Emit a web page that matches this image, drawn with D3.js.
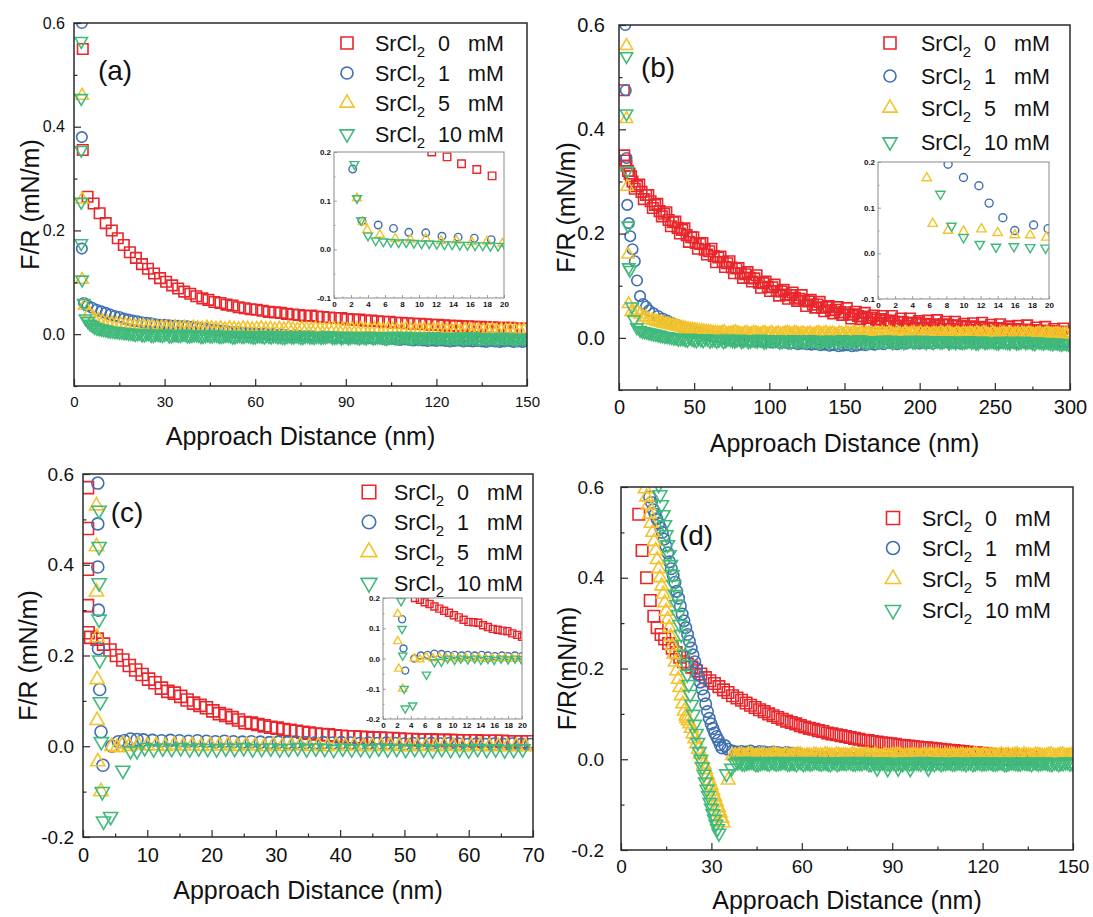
<!DOCTYPE html>
<html>
<head>
<meta charset="utf-8">
<script src="https://cdn.jsdelivr.net/npm/d3@7"></script>
<style>
  body { margin: 0; background: #fff; }
  svg { display: block; font-family: Arial, "Liberation Sans", sans-serif; }
</style>
</head>
<body>
<svg id="fig" width="1093" height="917"></svg>
<script>
// ---------- series metadata ----------
const concentrations = ["0", "1", "5", "10"];           // SrCl2, mM
const seriesColors   = ["#e8262b", "#3f6fb0", "#f3c32c", "#40ba7a"];
const seriesShapes   = ["square", "circle", "up", "down"];

// ---------- panel (a): x in nm, y in mN/m ----------
const aRedHead = [[2.9, 0.55], [2.9, 0.355]];
const aRedRun = { x0: 4.5, dx: 2, y: [
  0.265,0.252,0.233,0.214,0.200,0.185,0.172,0.158,0.147,0.135,
  0.126,0.117,0.108,0.101,0.094,0.088,0.082,0.078,0.073,0.069,
  0.066,0.062,0.060,0.057,0.055,0.052,0.050,0.048,0.047,0.045,
  0.043,0.042,0.041,0.039,0.038,0.037,0.035,0.036,0.034,0.033,
  0.032,0.031,0.031,0.029,0.028,0.028,0.026,0.026,0.025,0.024,
  0.024,0.022,0.022,0.021,0.020,0.020,0.019,0.018,0.018,0.017,
  0.016,0.016,0.015,0.015,0.014,0.014,0.013,0.013,0.012,0.012,
  0.012,0.011,0.011] };
const aBlueHead = [[2.6, 0.60], [2.6, 0.38], [2.6, 0.165], [3.3, 0.06]];
const aBlueRun = { x0: 4.5, dx: 1.5, y: [
  0.055,0.051,0.047,0.044,0.041,0.038,0.035,0.033,0.030,0.028,
  0.026,0.025,0.023,0.022,0.021,0.019,0.018,0.018,0.017,0.016,
  0.016,0.015,0.015,0.014,0.013,0.012,0.011,0.009,0.008,0.007,
  0.006,0.005,0.004,0.004,0.003,0.002,0.002,0.001,0.000,0.001,
  -0.001,0.000,-0.002,-0.001,-0.002,-0.003,-0.002,-0.003,-0.004,-0.003,
  -0.004,-0.005,-0.004,-0.005,-0.006,-0.005,-0.006,-0.007,-0.006,-0.007,
  -0.008,-0.007,-0.008,-0.009,-0.008,-0.009,-0.010,-0.009,-0.010,-0.011,
  -0.010,-0.011,-0.012,-0.011,-0.012,-0.013,-0.012,-0.013,-0.012,-0.013,
  -0.014,-0.013,-0.012,-0.014,-0.013,-0.014,-0.013,-0.014,-0.015,-0.013,
  -0.014,-0.015,-0.014,-0.013,-0.015,-0.014,-0.015,-0.014] };
const aYellowHead = [[2.7, 0.46], [2.7, 0.26], [2.7, 0.105]];
const aYellowRun = { x0: 3.5, dx: 1.5, y: [
  0.055,0.040,0.032,0.028,0.025,0.023,0.021,0.020,0.019,0.018,
  0.017,0.016,0.015,0.016,0.014,0.015,0.013,0.014,0.013,0.012,
  0.014,0.012,0.013,0.011,0.013,0.012,0.011,0.013,0.012,0.011,
  0.012,0.010,0.012,0.011,0.010,0.012,0.011,0.010,0.011,0.012,
  0.010,0.011,0.009,0.011,0.010,0.012,0.010,0.009,0.011,0.010,
  0.009,0.011,0.010,0.009,0.010,0.011,0.009,0.010,0.008,0.010,
  0.009,0.011,0.009,0.008,0.010,0.009,0.008,0.010,0.009,0.008,
  0.009,0.010,0.008,0.009,0.008,0.009,0.007,0.009,0.008,0.009,
  0.007,0.008,0.009,0.007,0.008,0.009,0.007,0.008,0.007,0.008,
  0.009,0.007,0.008,0.007,0.008,0.007,0.008,0.007] };
const aGreenHead = [[2.4, 0.565], [2.4, 0.455], [2.4, 0.355], [2.4, 0.255], [2.4, 0.175], [2.7, 0.105], [3.2, 0.06]];
const aGreenRun = { x0: 3.8, dx: 1.5, y: [
  0.030,0.020,0.014,0.011,0.009,0.007,0.006,0.005,0.004,0.003,
  0.002,0.000,0.002,-0.001,0.001,-0.002,0.000,-0.002,0.001,-0.003,
  -0.001,-0.002,0.000,-0.003,-0.001,-0.002,-0.004,-0.001,-0.003,-0.002,
  -0.004,-0.002,-0.003,-0.005,-0.002,-0.004,-0.003,-0.005,-0.003,-0.004,
  -0.002,-0.005,-0.003,-0.004,-0.006,-0.003,-0.005,-0.004,-0.006,-0.003,
  -0.005,-0.004,-0.006,-0.005,-0.003,-0.006,-0.004,-0.005,-0.007,-0.004,
  -0.006,-0.005,-0.007,-0.004,-0.006,-0.005,-0.007,-0.006,-0.004,-0.007,
  -0.005,-0.006,-0.008,-0.005,-0.007,-0.006,-0.008,-0.005,-0.007,-0.006,
  -0.008,-0.006,-0.007,-0.005,-0.008,-0.006,-0.007,-0.009,-0.006,-0.008,
  -0.007,-0.009,-0.006,-0.008,-0.007,-0.009,-0.007,-0.008] };
const aGreenRun2 = { x0: 4.55, dx: 1.5, y: [
  0.025,0.017,0.012,0.010,0.008,0.006,0.005,0.004,0.003,0.002,
  0.001,0.001,-0.001,0.001,-0.002,0.000,-0.001,0.000,-0.003,-0.001,
  -0.002,0.000,-0.003,-0.002,-0.001,-0.004,-0.002,-0.003,-0.001,-0.004,
  -0.003,-0.002,-0.005,-0.003,-0.004,-0.002,-0.004,-0.005,-0.003,-0.005,
  -0.004,-0.003,-0.005,-0.006,-0.004,-0.005,-0.003,-0.006,-0.004,-0.005,
  -0.006,-0.004,-0.005,-0.003,-0.006,-0.005,-0.007,-0.004,-0.006,-0.005,
  -0.007,-0.006,-0.004,-0.007,-0.005,-0.006,-0.008,-0.005,-0.007,-0.006,
  -0.004,-0.007,-0.006,-0.008,-0.006,-0.007,-0.005,-0.008,-0.006,-0.007,
  -0.009,-0.007,-0.006,-0.008,-0.007,-0.005,-0.008,-0.007,-0.009,-0.007,
  -0.008,-0.006,-0.009,-0.007,-0.008,-0.009,-0.008,-0.007] };
// inset (a): first 20 nm
const aRedIn    = [[9.6,0.212],[11.5,0.2],[13.3,0.19],[15,0.176],[16.8,0.164],[18.6,0.151]];
const aBlueIn   = [[2.2,0.165],[3.3,0.058],[5.2,0.05],[7,0.043],[8.8,0.035],[10.8,0.034],[12.7,0.027],[14.6,0.025],[16.5,0.023],[18.5,0.02]];
const aYellowIn = [[2.7,0.105],[3.4,0.056],[3.9,0.04],[5.4,0.03],[7.2,0.022],[9,0.02],[10.8,0.022],[12.6,0.017],[14.4,0.018],[16.2,0.015],[18,0.016],[19.8,0.012]];
const aGreenInHead = [[2.4,0.175],[2.7,0.105],[3.2,0.06]];
const aGreenInRun = { x0: 4, dx: 0.9, y: [0.028,0.018,0.016,0.015,0.014,0.014,0.013,0.012,0.012,0.011,0.010,0.010,0.009,0.009,0.008,0.008,0.007,0.007,0.006] };

// ---------- panel (b) ----------
const bRedHead = [[3.2,0.475],[3.5,0.35],[4.2,0.34],[5,0.33],[6,0.32],[7,0.315],[8,0.31]];
const bRedRun = { x0: 9, dx: 3, y: [
  0.300,0.291,0.280,0.274,0.262,0.255,0.243,0.238,0.226,0.222,
  0.211,0.207,0.197,0.193,0.182,0.180,0.169,0.166,0.157,0.154,
  0.146,0.143,0.135,0.133,0.124,0.122,0.115,0.114,0.106,0.105,
  0.098,0.097,0.090,0.089,0.083,0.082,0.077,0.075,0.071,0.070,
  0.064,0.064,0.058,0.059,0.053,0.054,0.049,0.049,0.045,0.045,
  0.042,0.041,0.038,0.039,0.035,0.036,0.033,0.033,0.031,0.031,
  0.030,0.029,0.028,0.029,0.026,0.027,0.025,0.026,0.024,0.026,
  0.025,0.024,0.023,0.023,0.021,0.022,0.020,0.021,0.019,0.020,
  0.018,0.019,0.017,0.018,0.016,0.017,0.015,0.016,0.014,0.015,
  0.013,0.014,0.012,0.013,0.011,0.012,0.011] };
const bRedRun2 = { x0: 10.5, dx: 3, y: [
  0.286,0.294,0.266,0.274,0.249,0.257,0.233,0.241,0.214,0.223,
  0.200,0.210,0.184,0.193,0.171,0.182,0.160,0.171,0.145,0.156,
  0.136,0.147,0.124,0.134,0.115,0.126,0.108,0.120,0.096,0.108,
  0.090,0.102,0.081,0.092,0.075,0.087,0.071,0.082,0.061,0.073,
  0.058,0.069,0.051,0.061,0.047,0.059,0.044,0.057,0.037,0.050,
  0.036,0.048,0.030,0.043,0.028,0.042,0.028,0.042,0.023,0.037,
  0.023,0.037,0.019,0.032,0.019,0.033,0.020,0.034,0.016,0.031,
  0.017,0.031,0.014,0.027,0.014,0.028,0.015,0.029,0.011,0.025,
  0.012,0.026,0.009,0.022,0.009,0.023,0.010,0.024,0.006,0.020,
  0.007,0.021,0.004,0.017,0.004,0.018] };
const bBlueHead = [[4.2,0.6],[4.5,0.475],[5,0.345],[5.5,0.255],[6.5,0.22],[7.5,0.195],[9,0.17],[10.5,0.147],[12,0.11],[14,0.08],[16,0.065],[18,0.06],[20,0.053]];
const bBlueRun = { x0: 23, dx: 3, y: [
  0.047,0.042,0.037,0.033,0.029,0.025,0.021,0.018,0.015,0.012,
  0.010,0.008,0.006,0.004,0.002,0.000,-0.002,-0.003,-0.004,-0.005,
  -0.006,-0.005,-0.007,-0.006,-0.008,-0.007,-0.009,-0.008,-0.010,-0.009,
  -0.011,-0.010,-0.012,-0.011,-0.012,-0.013,-0.012,-0.014,-0.013,-0.015,
  -0.014,-0.016,-0.015,-0.014,-0.016,-0.015,-0.013,-0.014,-0.012,-0.013,
  -0.011,-0.012,-0.010,-0.011,-0.012,-0.010,-0.011,-0.009,-0.010,-0.011,
  -0.009,-0.010,-0.011,-0.009,-0.010,-0.008,-0.010,-0.009,-0.011,-0.010,
  -0.009,-0.010,-0.008,-0.009,-0.010,-0.008,-0.009,-0.010,-0.008,-0.009,
  -0.010,-0.009,-0.008,-0.010,-0.009,-0.008,-0.009,-0.010,-0.009,-0.008,
  -0.009,-0.010,-0.009] };
const bYellowHead = [[5,0.56],[5,0.42],[5.5,0.29],[6,0.16],[6.4,0.065],[8.2,0.05],[10,0.048],[12.1,0.052],[14,0.045],[16,0.04],[17.8,0.04],[19.7,0.035]];
const bYellowRun = { x0: 22, dx: 3, y: [
  0.034,0.031,0.029,0.027,0.025,0.023,0.021,0.019,0.017,0.016,
  0.014,0.013,0.012,0.011,0.010,0.009,0.011,0.008,0.010,0.009,
  0.007,0.010,0.008,0.009,0.007,0.010,0.008,0.006,0.009,0.008,
  0.010,0.007,0.009,0.008,0.006,0.009,0.007,0.010,0.008,0.007,
  0.009,0.006,0.008,0.010,0.007,0.009,0.008,0.006,0.009,0.007,
  0.008,0.010,0.007,0.009,0.006,0.008,0.009,0.007,0.010,0.008,
  0.006,0.009,0.007,0.008,0.010,0.007,0.009,0.006,0.008,0.009,
  0.007,0.008,0.010,0.007,0.009,0.006,0.008,0.007,0.009,0.008,
  0.006,0.008,0.009,0.007,0.008,0.006,0.009,0.007,0.008,0.007,
  0.008,0.006,0.007] };
const bYellowRun2 = { x0: 23.5, dx: 3, y: [
  0.033,0.030,0.028,0.026,0.024,0.022,0.020,0.018,0.016,0.015,
  0.013,0.012,0.011,0.010,0.009,0.010,0.008,0.009,0.011,0.008,
  0.009,0.007,0.010,0.008,0.009,0.007,0.010,0.008,0.006,0.009,
  0.008,0.010,0.007,0.009,0.008,0.006,0.009,0.007,0.010,0.008,
  0.007,0.009,0.006,0.008,0.010,0.007,0.009,0.008,0.006,0.009,
  0.007,0.008,0.010,0.007,0.009,0.006,0.008,0.009,0.007,0.010,
  0.008,0.006,0.009,0.007,0.008,0.010,0.007,0.009,0.006,0.008,
  0.009,0.007,0.008,0.010,0.007,0.009,0.006,0.008,0.007,0.009,
  0.008,0.006,0.008,0.009,0.007,0.008,0.006,0.009,0.007,0.008,
  0.007,0.008] };
const bGreenHead = [[5,0.54],[5,0.43],[5.5,0.32],[6,0.215],[6.5,0.135],[7.3,0.13],[8.6,0.06],[10,0.035],[11.9,0.02]];
const bGreenRun = { x0: 14, dx: 3, y: [
  0.015,0.012,0.010,0.008,0.006,0.004,0.003,0.001,0.000,-0.001,
  -0.003,0.000,-0.004,-0.001,-0.005,-0.002,-0.004,-0.006,-0.002,-0.005,
  -0.003,-0.006,-0.002,-0.005,-0.007,-0.003,-0.006,-0.004,-0.007,-0.003,
  -0.005,-0.008,-0.004,-0.006,-0.003,-0.007,-0.005,-0.008,-0.004,-0.006,
  -0.007,-0.004,-0.008,-0.005,-0.006,-0.003,-0.007,-0.005,-0.008,-0.004,
  -0.006,-0.008,-0.005,-0.007,-0.004,-0.006,-0.009,-0.005,-0.007,-0.006,
  -0.004,-0.008,-0.006,-0.007,-0.005,-0.009,-0.006,-0.008,-0.005,-0.007,
  -0.009,-0.006,-0.008,-0.005,-0.007,-0.010,-0.006,-0.008,-0.007,-0.009,
  -0.006,-0.008,-0.010,-0.007,-0.009,-0.006,-0.008,-0.010,-0.007,-0.009,
  -0.008,-0.010,-0.009,-0.011,-0.010,-0.012] };
const bGreenRun2 = { x0: 15.5, dx: 3, y: [
  0.013,0.011,0.009,0.007,0.005,0.003,0.002,0.000,-0.002,-0.001,
  -0.004,-0.002,-0.005,-0.003,-0.001,-0.006,-0.003,-0.004,-0.007,-0.002,
  -0.005,-0.004,-0.007,-0.003,-0.006,-0.005,-0.002,-0.008,-0.004,-0.006,
  -0.003,-0.007,-0.005,-0.008,-0.006,-0.004,-0.007,-0.003,-0.006,-0.008,
  -0.005,-0.007,-0.004,-0.009,-0.006,-0.005,-0.008,-0.006,-0.003,-0.007,
  -0.009,-0.005,-0.007,-0.006,-0.008,-0.004,-0.007,-0.006,-0.009,-0.005,
  -0.008,-0.006,-0.004,-0.009,-0.007,-0.005,-0.008,-0.006,-0.010,-0.007,
  -0.006,-0.009,-0.007,-0.008,-0.010,-0.006,-0.009,-0.007,-0.008,-0.010,
  -0.007,-0.009,-0.006,-0.010,-0.008,-0.009,-0.007,-0.011,-0.008,-0.010,
  -0.009,-0.011,-0.010,-0.012,-0.011] };
// inset (b)
const bBlueIn   = [[8.2,0.195],[10,0.166],[11.8,0.148],[13,0.11],[14.6,0.078],[16,0.05],[18.2,0.062],[19.9,0.054]];
const bYellowIn = [[5.7,0.165],[6.4,0.065],[8.2,0.05],[10,0.048],[12.1,0.053],[14,0.045],[16,0.04],[17.8,0.04],[19.7,0.035]];
const bGreenIn  = [[7.3,0.13],[8.6,0.06],[10,0.035],[11.9,0.02],[13.8,0.014],[15.9,0.015],[17.8,0.013],[19.6,0.012]];

// ---------- panel (c) ----------
const cRedHead = [[0.7,0.57],[0.7,0.48],[0.7,0.39],[0.7,0.31],[0.8,0.25]];
const cRedRun = { x0: 1.2, dx: 1, y: [
  0.240,0.236,0.225,0.212,0.200,0.190,0.178,0.168,0.158,0.148,
  0.140,0.128,0.121,0.117,0.110,0.102,0.095,0.090,0.085,0.078,
  0.072,0.068,0.063,0.058,0.052,0.051,0.048,0.045,0.042,0.040,
  0.037,0.035,0.033,0.031,0.029,0.027,0.026,0.025,0.023,0.022,
  0.021,0.021,0.020,0.019,0.018,0.018,0.017,0.017,0.016,0.015,
  0.015,0.014,0.014,0.014,0.013,0.013,0.013,0.012,0.012,0.012,
  0.012,0.011,0.011,0.011,0.011,0.010,0.010,0.010,0.010] };
const cBlueHead = [[2.3,0.58],[2.3,0.49],[2.3,0.395],[2.4,0.30],[2.4,0.215],[2.6,0.125],[2.8,0.032],[3.1,-0.042],[4.5,0.0],[5.5,0.01],[6.4,0.012],[7.4,0.016],[8.4,0.015]];
const cBlueRun = { x0: 9.4, dx: 1.4, y: [
  0.014,0.013,0.012,0.013,0.012,0.011,0.012,0.011,0.010,0.011,
  0.010,0.009,0.010,0.009,0.008,0.009,0.008,0.009,0.008,0.007,
  0.008,0.007,0.008,0.007,0.006,0.007,0.006,0.007,0.006,0.005,
  0.006,0.005,0.006,0.005,0.006,0.005,0.004,0.005,0.004,0.005,
  0.004,0.005,0.004,0.004] };
const cYellowHead = [[2.1,0.53],[2.1,0.44],[2.1,0.34],[2.2,0.24],[2.2,0.147],[2.2,0.057],[2.3,-0.034],[2.8,-0.1],[4.5,0.0],[5.3,-0.003],[6.2,0.005]];
const cYellowRun = { x0: 7.2, dx: 1.4, y: [
  0.000,0.003,0.001,0.002,0.000,0.003,0.001,0.002,0.000,0.002,
  0.001,0.003,0.000,0.002,0.001,-0.001,0.002,0.000,0.001,0.002,
  0.000,0.001,-0.001,0.002,0.000,0.001,-0.001,0.001,0.000,0.002,
  0.000,-0.001,0.001,0.000,-0.001,0.001,0.000,-0.001,0.000,0.001,
  -0.001,0.000,-0.001,0.000,-0.001] };
const cGreenHead = [[2.5,0.52],[2.5,0.44],[2.5,0.36],[2.5,0.28],[2.6,0.19],[2.7,0.098],[2.85,0.01],[3.0,-0.1],[3.2,-0.165],[4.3,-0.155],[6.2,-0.053],[7.4,-0.01],[8.4,-0.01]];
const cGreenRun = { x0: 9.6, dx: 1.4, y: [
  -0.003,-0.006,-0.004,-0.005,-0.003,-0.006,-0.004,-0.005,-0.006,-0.004,
  -0.005,-0.003,-0.006,-0.005,-0.004,-0.006,-0.005,-0.003,-0.006,-0.004,
  -0.005,-0.007,-0.004,-0.006,-0.005,-0.007,-0.004,-0.006,-0.005,-0.007,
  -0.005,-0.006,-0.008,-0.005,-0.007,-0.006,-0.008,-0.005,-0.007,-0.006,
  -0.008,-0.007,-0.006] };
// inset (c)
const cRedInRun = { x0: 4.6, dx: 0.7, y: [0.2,0.194,0.186,0.18,0.172,0.165,0.158,0.151,0.143,0.136,0.128,0.121,0.12,0.118,0.11,0.104,0.098,0.095,0.092,0.09,0.083,0.078,0.072] };
const cBlueIn   = [[2.75,0.13],[2.95,0.033],[3.2,-0.04],[4.5,0.0],[5.45,0.01],[6.4,0.012],[7.4,0.016],[8.4,0.015],[9.3,0.012],[10.3,0.012],[11.3,0.01],[12.2,0.012],[13.2,0.01],[14.2,0.012],[15.1,0.01],[16.1,0.008],[17.1,0.01],[18.0,0.008],[19.0,0.01],[20.0,0.008]];
const cYellowIn = [[2.13,0.147],[2.13,0.057],[2.27,-0.034],[2.84,-0.1],[4.5,0.0],[5.3,-0.003],[6.2,0.005],[7.2,0.0],[8.1,0.004],[9.1,0.001],[10.0,0.003],[11.0,0.0],[11.9,0.002],[12.9,0.0],[13.8,0.002],[14.8,-0.001],[15.7,0.001],[16.7,0.0],[17.6,0.001],[18.6,-0.001],[19.5,0.0]];
const cGreenIn  = [[2.6,0.19],[2.74,0.098],[2.84,0.01],[3.05,-0.1],[3.2,-0.165],[4.27,-0.155],[6.25,-0.053],[7.4,-0.012],[8.4,-0.01],[9.3,0.0],[10.3,-0.004],[11.2,0.0],[12.2,-0.003],[13.2,0.0],[14.1,-0.004],[15.1,-0.001],[16.0,-0.004],[17.0,0.0],[18.0,-0.003],[19.0,0.0],[19.9,-0.002]];

// ---------- panel (d) ----------
const dRedHead = [[5.9,0.54],[7,0.46],[8.5,0.40],[9.7,0.35],[10.9,0.315],[12,0.29],[13.3,0.275],[14.5,0.265],[15.8,0.255],[17,0.245],[18.3,0.235],[19.5,0.225],[20.8,0.215]];
const dRedRun = { x0: 22, dx: 1.5, y: [
  0.210,0.203,0.195,0.188,0.180,0.173,0.167,0.160,0.153,0.147,
  0.140,0.135,0.130,0.124,0.119,0.114,0.109,0.105,0.100,0.096,
  0.092,0.088,0.084,0.081,0.078,0.074,0.071,0.068,0.066,0.063,
  0.061,0.058,0.056,0.054,0.052,0.050,0.048,0.046,0.044,0.042,
  0.041,0.039,0.038,0.036,0.035,0.034,0.033,0.031,0.030,0.029,
  0.028,0.027,0.026,0.025,0.024,0.023,0.022,0.021,0.020,0.019,
  0.018,0.017,0.016,0.015,0.014,0.013,0.012,0.011,0.010,0.009,
  0.009,0.008,0.008,0.007,0.007,0.006,0.006] };
const dBlueRun1 = { x0: 9.5, dx: 0.6, y: [
  0.578,0.566,0.550,0.540,0.530,0.520,0.510,0.500,0.485,0.470,
  0.455,0.435,0.420,0.405,0.390,0.370,0.355,0.338,0.320,0.305,
  0.290,0.275,0.260,0.245,0.230,0.215,0.200,0.185,0.170,0.155,
  0.140,0.122,0.105,0.090,0.078,0.068,0.058,0.050,0.042,0.032,
  0.025] };
const dBlueMid = [[34.5,0.03],[35.5,0.022],[37,0.018],[38.5,0.016]];
const dBlueRun2 = { x0: 40, dx: 1.5, y: [
  0.017,0.016,0.018,0.015,0.017,0.016,0.014,0.016,0.015,0.013,0.015,0.013,0.012,
  0.010,0.008,0.006,0.005,0.004,0.004,0.003,0.003,0.002,0.003,
  0.002,0.003,0.002,0.002,0.003,0.002,0.001,0.002,0.001,0.002,
  0.001,0.002,0.001,0.001,0.002,0.001,0.000,0.001,0.000,0.001,
  0.000,0.001,0.000,0.000,0.001,0.000,-0.001,0.000,-0.001,0.000,
  -0.001,0.000,-0.001,-0.001,0.000,-0.001,-0.002,-0.001,-0.002,-0.001,
  -0.002,-0.001,-0.002,-0.002] };
const dYellowRun1 = { x0: 8, dx: 0.5, y: [
  0.596,0.578,0.560,0.540,0.520,0.500,0.480,0.460,0.440,0.420,
  0.400,0.382,0.364,0.345,0.326,0.308,0.290,0.270,0.250,0.232,
  0.214,0.195,0.176,0.158,0.140,0.122,0.106,0.095] };
const dYellowMid = [[21.8,0.09],[22.3,0.085],[22.8,0.078]];
const dYellowRun2 = { x0: 23.3, dx: 0.6, y: [
  0.068,0.056,0.045,0.034,0.022,0.011,0.000,-0.011,-0.023,-0.035,
  -0.047,-0.058,-0.070,-0.082,-0.094,-0.106,-0.118,-0.130] };
const dYellowTail = [[33.9,-0.14],[35.6,-0.046]];
const dYellowRun3 = { x0: 37, dx: 1.5, y: [
  0.008,0.006,0.009,0.007,0.010,0.006,0.008,0.009,0.007,0.010,
  0.008,0.006,0.009,0.007,0.008,0.010,0.006,0.008,0.009,0.007,
  0.006,0.009,0.008,0.010,0.007,0.008,0.006,0.009,0.007,0.008,
  0.010,0.007,0.008,0.006,0.009,0.008,0.007,0.010,0.006,0.008,
  0.009,0.007,0.008,0.006,0.010,0.008,0.007,0.009,0.006,0.008,
  0.007,0.009,0.008,0.006,0.010,0.007,0.008,0.009,0.006,0.008,
  0.007,0.009,0.008,0.010,0.006,0.008,0.007,0.009,0.008,0.006,
  0.009,0.007,0.008,0.010,0.007,0.008] };
const dYellowRun4 = { x0: 37.75, dx: 1.5, y: [
  0.007,0.009,0.006,0.010,0.008,0.007,0.009,0.006,0.008,0.010,
  0.007,0.008,0.006,0.009,0.010,0.007,0.008,0.006,0.009,0.008,
  0.010,0.007,0.006,0.009,0.008,0.007,0.010,0.006,0.008,0.009,
  0.007,0.010,0.006,0.008,0.007,0.009,0.010,0.006,0.008,0.007,
  0.009,0.006,0.010,0.008,0.007,0.009,0.006,0.008,0.010,0.007,
  0.009,0.006,0.008,0.010,0.007,0.009,0.006,0.008,0.007,0.010,
  0.008,0.006,0.009,0.007,0.010,0.008,0.006,0.009,0.007,0.008,
  0.010,0.006,0.009,0.007,0.008,0.007] };
const dGreenRun1 = { x0: 12.5, dx: 0.5, y: [
  0.605,0.583,0.561,0.539,0.517,0.495,0.473,0.451,0.429,0.407,
  0.385,0.363,0.341,0.319,0.297,0.275,0.253,0.231,0.209,0.187,
  0.165,0.143,0.121,0.099,0.077,0.057,0.037,0.017,0.000,-0.017,
  -0.033,-0.050,-0.066,-0.080,-0.095,-0.108,-0.120,-0.132,-0.143,-0.153,
  -0.163] };
const dGreenTail = [[35,-0.032],[36.7,-0.02],[85,-0.02],[88.5,-0.021],[92,-0.02],[96,-0.021],[102,-0.02]];
const dGreenRun2 = { x0: 38, dx: 1.5, y: [
  -0.008,-0.005,-0.009,-0.006,-0.007,-0.010,-0.006,-0.008,-0.005,-0.009,
  -0.007,-0.006,-0.009,-0.008,-0.005,-0.010,-0.007,-0.008,-0.006,-0.009,
  -0.007,-0.010,-0.006,-0.008,-0.007,-0.005,-0.009,-0.007,-0.008,-0.006,
  -0.010,-0.007,-0.008,-0.006,-0.009,-0.007,-0.008,-0.010,-0.006,-0.008,
  -0.007,-0.009,-0.006,-0.008,-0.010,-0.007,-0.008,-0.006,-0.009,-0.007,
  -0.008,-0.010,-0.006,-0.009,-0.007,-0.008,-0.006,-0.009,-0.008,-0.007,
  -0.010,-0.006,-0.008,-0.009,-0.007,-0.008,-0.006,-0.009,-0.007,-0.008,
  -0.010,-0.007,-0.008,-0.006,-0.009] };
const dGreenRun3 = { x0: 38.75, dx: 1.5, y: [
  -0.006,-0.009,-0.007,-0.005,-0.010,-0.008,-0.006,-0.009,-0.007,-0.008,
  -0.005,-0.009,-0.007,-0.010,-0.006,-0.008,-0.009,-0.005,-0.008,-0.007,
  -0.009,-0.006,-0.010,-0.007,-0.008,-0.006,-0.009,-0.008,-0.005,-0.010,
  -0.007,-0.008,-0.006,-0.009,-0.007,-0.010,-0.008,-0.006,-0.009,-0.007,
  -0.008,-0.005,-0.009,-0.007,-0.006,-0.010,-0.008,-0.007,-0.009,-0.006,
  -0.008,-0.007,-0.010,-0.006,-0.009,-0.008,-0.007,-0.009,-0.006,-0.010,
  -0.008,-0.007,-0.009,-0.006,-0.008,-0.010,-0.007,-0.008,-0.006,-0.009,
  -0.007,-0.010,-0.008,-0.006,-0.008] };

// ---------- helpers ----------
// Concatenate explicit [x, y] pairs and uniformly sampled runs {x0, dx, y[]}
function join(...parts) {
  const out = [];
  parts.forEach(p => {
    if (Array.isArray(p)) p.forEach(d => out.push(d));
    else p.y.forEach((v, i) => out.push([p.x0 + i * p.dx, v]));
  });
  return out;
}

function shapePath(shape, s) {
  const h = s / 2;
  if (shape === "square") return `M${-h},${-h}H${h}V${h}H${-h}Z`;
  if (shape === "circle") return `M${h},0A${h},${h},0,1,1,${-h},0A${h},${h},0,1,1,${h},0Z`;
  const t = s * 1.18, th = t * 0.866;
  if (shape === "up")   return `M0,${-2 * th / 3}L${t / 2},${th / 3}L${-t / 2},${th / 3}Z`;
  return `M0,${2 * th / 3}L${t / 2},${-th / 3}L${-t / 2},${-th / 3}Z`;
}

const fmtY = v => d3.format(".1f")(v).replace("\u2212", "-");
const svg = d3.select("#fig");
let clipCount = 0;

function drawPlot(p) {
  const x = d3.scaleLinear().domain(p.xDomain).range([p.L, p.R]);
  const y = d3.scaleLinear().domain(p.yDomain).range([p.B, p.T]);
  const g = svg.append("g");
  if (p.background) {
    g.append("rect").attr("x", p.L).attr("y", p.T)
      .attr("width", p.R - p.L).attr("height", p.B - p.T).attr("fill", "#fff");
  }
  const cid = "clip" + (clipCount++);
  svg.append("clipPath").attr("id", cid).append("rect")
    .attr("x", p.L).attr("y", p.T).attr("width", p.R - p.L).attr("height", p.B - p.T);
  const marks = g.append("g").attr("clip-path", `url(#${cid})`);
  p.data.forEach((pts, i) => {
    if (!pts) return;
    marks.append("g").selectAll("path").data(pts).join("path")
      .attr("transform", d => `translate(${x(d[0]).toFixed(2)},${y(d[1]).toFixed(2)})`)
      .attr("d", shapePath(seriesShapes[i], p.ms))
      .attr("fill", "none")
      .attr("stroke", seriesColors[i])
      .attr("stroke-width", p.sw);
  });

  // axes (ticks point inward)
  const xAx = g.append("g").attr("transform", `translate(0,${p.B})`)
    .call(d3.axisBottom(x).tickValues(p.xMajor).tickSize(-p.tick).tickPadding(p.xPad).tickFormat(d3.format("d")));
  g.append("g").attr("transform", `translate(0,${p.B})`)
    .call(d3.axisBottom(x).tickValues(p.xMinor).tickSize(-p.tick / 2).tickFormat(""));
  const yAx = g.append("g").attr("transform", `translate(${p.L},0)`)
    .call(d3.axisLeft(y).tickValues(p.yMajor).tickSize(-p.tick).tickPadding(p.yPad).tickFormat(fmtY));
  g.append("g").attr("transform", `translate(${p.L},0)`)
    .call(d3.axisLeft(y).tickValues(p.yMinor).tickSize(-p.tick / 2).tickFormat(""));
  g.selectAll(".domain").remove();
  g.selectAll(".tick line").attr("stroke", p.frame).attr("stroke-width", p.tickW);
  xAx.selectAll("text").attr("font-size", p.xFont).attr("font-family", "Arial, 'Liberation Sans', sans-serif")
    .attr("font-weight", p.fontWeight || "normal").attr("fill", "#111");
  yAx.selectAll("text").attr("font-size", p.yFont).attr("font-family", "Arial, 'Liberation Sans', sans-serif")
    .attr("font-weight", p.fontWeight || "normal").attr("fill", "#111");

  g.append("rect").attr("x", p.L).attr("y", p.T)
    .attr("width", p.R - p.L).attr("height", p.B - p.T)
    .attr("fill", "none").attr("stroke", p.frame).attr("stroke-width", p.frameW);
  return g;
}

function drawPanel(p) {
  const g = drawPlot(p);
  // axis titles
  g.append("text").attr("x", (p.L + p.R) / 2).attr("y", p.xTitleY).attr("dy", "0.35em")
    .attr("text-anchor", "middle").attr("font-size", 25).attr("fill", "#111")
    .text("Approach Distance (nm)");
  g.append("text").attr("transform", `translate(${p.yTitleX},${(p.T + p.B) / 2}) rotate(-90)`)
    .attr("dy", "0.35em").attr("text-anchor", "middle").attr("font-size", 25).attr("fill", "#111")
    .text(p.yTitle);
  // panel tag
  g.append("text").attr("x", p.tag[0]).attr("y", p.tag[1]).attr("dy", "0.35em")
    .attr("text-anchor", "middle").attr("font-size", 28).attr("fill", "#111").text(p.tagText);
  // legend
  const lg = g.append("g");
  concentrations.forEach((c, i) => {
    const yy = p.legend.rows[i];
    lg.append("path").attr("transform", `translate(${p.legend.mx},${yy})`)
      .attr("d", shapePath(seriesShapes[i], p.ms + 1.5))
      .attr("fill", "none").attr("stroke", seriesColors[i]).attr("stroke-width", p.sw);
    const t = lg.append("text").attr("x", p.legend.tx).attr("y", yy).attr("dy", "0.36em")
      .attr("font-size", 21.5).attr("fill", "#111");
    t.append("tspan").text("SrCl");
    t.append("tspan").attr("dy", 6).attr("font-size", 15).text("2");
    lg.append("text").attr("x", p.legend.tx + 63).attr("y", yy).attr("dy", "0.36em")
      .attr("font-size", 21.5).attr("fill", "#111").text(c);
    lg.append("text").attr("x", p.legend.tx + 93).attr("y", yy).attr("dy", "0.36em")
      .attr("font-size", 21.5).attr("fill", "#111").text("mM");
  });
  if (p.inset) drawPlot(Object.assign({
    background: true, tick: 3, frame: "#8a8a8a", frameW: 1, tickW: 0.8,
    xFont: 8, yFont: 8, xPad: 3, yPad: 3, fontWeight: "bold", sw: 1.4,
    xDomain: [0, 20], xMajor: d3.range(0, 21, 2), xMinor: d3.range(1, 20, 2)
  }, p.inset));
}

const common = { tick: 7, frame: "#2a2a2a", frameW: 1.5, tickW: 1.2, sw: 1.6 };

drawPanel(Object.assign({}, common, {
  L: 74, R: 527, T: 23, B: 386,
  xDomain: [0, 150], xMajor: [0, 30, 60, 90, 120, 150], xMinor: [15, 45, 75, 105, 135],
  yDomain: [-0.1, 0.6], yMajor: [0, 0.2, 0.4, 0.6], yMinor: [-0.1, 0.1, 0.3, 0.5],
  xFont: 15, yFont: 16, xPad: 10, yPad: 9, ms: 10.5,
  xTitleY: 436, yTitleX: 30, yTitle: "F/R (mN/m)",
  tag: [115, 70], tagText: "(a)",
  legend: { mx: 347, tx: 375, rows: [43, 73, 103, 134] },
  data: [join(aRedHead, aRedRun), join(aBlueHead, aBlueRun), join(aYellowHead, aYellowRun),
         join(aGreenHead, aGreenRun, aGreenRun2)],
  inset: { L: 334, R: 504, T: 152, B: 298, yDomain: [-0.1, 0.2],
    yMajor: [-0.1, 0, 0.1, 0.2], yMinor: [-0.05, 0.05, 0.15], ms: 7.5,
    data: [aRedIn, aBlueIn, aYellowIn, join(aGreenInHead, aGreenInRun)] }
}));

drawPanel(Object.assign({}, common, {
  L: 619, R: 1070, T: 25, B: 390,
  xDomain: [0, 300], xMajor: [0, 50, 100, 150, 200, 250, 300], xMinor: [25, 75, 125, 175, 225, 275],
  yDomain: [-0.1, 0.6], yMajor: [0, 0.2, 0.4, 0.6], yMinor: [-0.1, 0.1, 0.3, 0.5],
  xFont: 20, yFont: 20, xPad: 10, yPad: 14, ms: 10.5,
  xTitleY: 443, yTitleX: 566, yTitle: "F/R (mN/m)",
  tag: [658, 67], tagText: "(b)",
  legend: { mx: 890, tx: 921, rows: [43, 76, 108, 142] },
  data: [join(bRedHead, bRedRun, bRedRun2), join(bBlueHead, bBlueRun),
         join(bYellowHead, bYellowRun, bYellowRun2), join(bGreenHead, bGreenRun, bGreenRun2)],
  inset: { L: 878, R: 1049, T: 162, B: 299, yDomain: [-0.1, 0.2],
    yMajor: [-0.1, 0, 0.1, 0.2], yMinor: [-0.05, 0.05, 0.15], ms: 8,
    data: [null, bBlueIn, bYellowIn, bGreenIn] }
}));

drawPanel(Object.assign({}, common, {
  L: 83, R: 533, T: 474, B: 837,
  xDomain: [0, 70], xMajor: [0, 10, 20, 30, 40, 50, 60, 70], xMinor: [5, 15, 25, 35, 45, 55, 65],
  yDomain: [-0.2, 0.6], yMajor: [-0.2, 0, 0.2, 0.4, 0.6], yMinor: [-0.1, 0.1, 0.3, 0.5],
  xFont: 20, yFont: 19, xPad: 11, yPad: 9, ms: 12,
  xTitleY: 890, yTitleX: 28, yTitle: "F/R (mN/m)",
  tag: [127, 512], tagText: "(c)",
  legend: { mx: 369, tx: 394, rows: [492, 522, 552, 583] },
  data: [join(cRedHead, cRedRun), join(cBlueHead, cBlueRun), join(cYellowHead, cYellowRun), join(cGreenHead, cGreenRun)],
  inset: { L: 383, R: 522, T: 598, B: 719, yDomain: [-0.2, 0.2],
    yMajor: [-0.2, -0.1, 0, 0.1, 0.2], yMinor: [-0.15, -0.05, 0.05, 0.15], ms: 7,
    data: [join(cRedInRun), cBlueIn, cYellowIn, cGreenIn] }
}));

drawPanel(Object.assign({}, common, {
  L: 621, R: 1073, T: 487, B: 850,
  xDomain: [0, 150], xMajor: [0, 30, 60, 90, 120, 150], xMinor: [15, 45, 75, 105, 135],
  yDomain: [-0.2, 0.6], yMajor: [-0.2, 0, 0.2, 0.4, 0.6], yMinor: [-0.1, 0.1, 0.3, 0.5],
  xFont: 19, yFont: 19, xPad: 10, yPad: 17, ms: 11.5,
  xTitleY: 900, yTitleX: 567, yTitle: "F/R(mN/m)",
  tag: [696, 535], tagText: "(d)",
  legend: { mx: 893, tx: 922, rows: [518, 548, 579, 610] },
  data: [join(dRedHead, dRedRun), join(dBlueRun1, dBlueMid, dBlueRun2),
         join(dYellowRun1, dYellowMid, dYellowRun2, dYellowTail, dYellowRun3, dYellowRun4),
         join(dGreenRun1, dGreenTail, dGreenRun2, dGreenRun3)]
}));
</script>
</body>
</html>
